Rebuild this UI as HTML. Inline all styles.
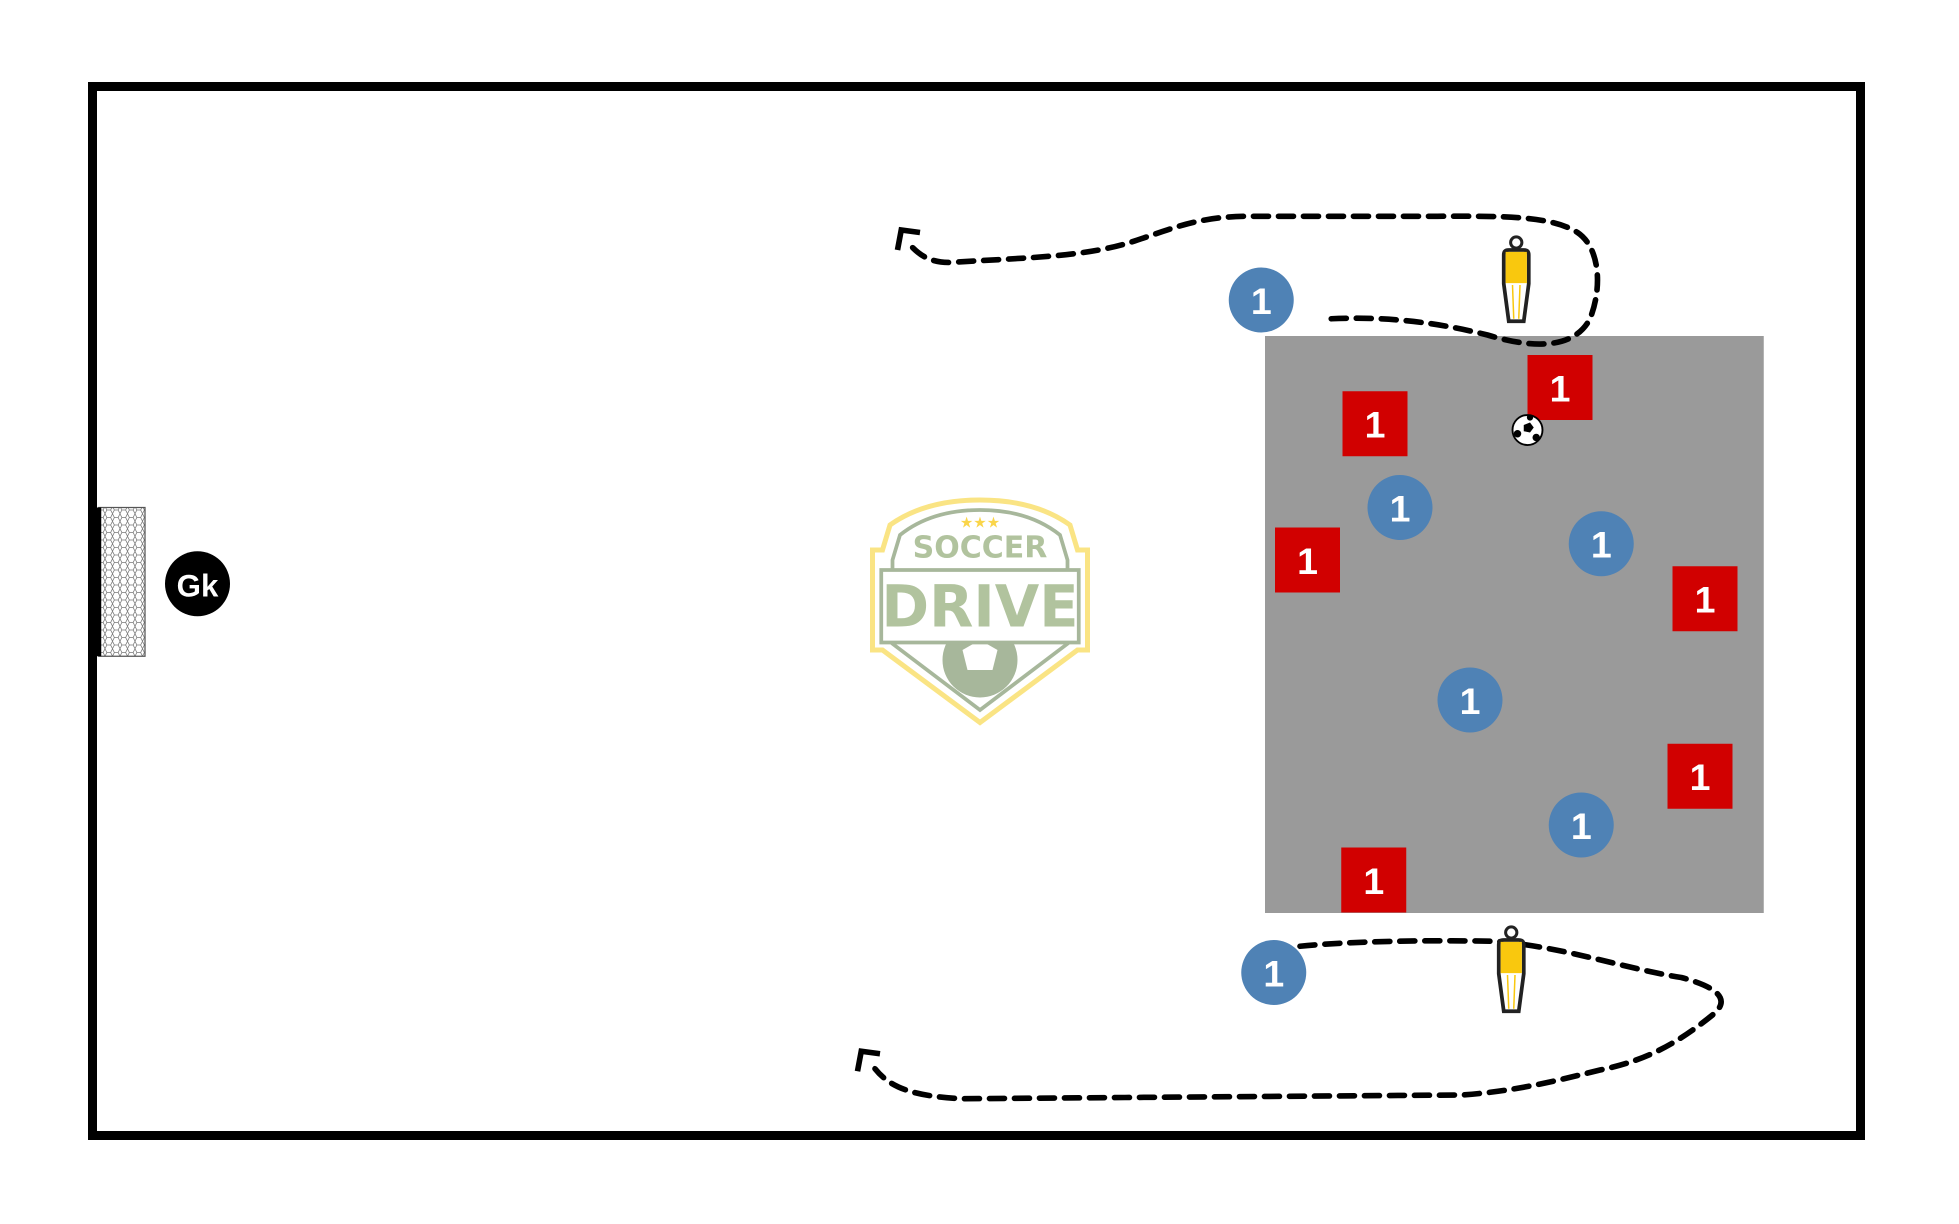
<!DOCTYPE html>
<html><head><meta charset="utf-8"><style>
html,body{margin:0;padding:0;background:#fff;}
svg{display:block;}
</style></head><body>
<svg width="1959" height="1224" viewBox="0 0 1567.2 979.2" preserveAspectRatio="none" xmlns="http://www.w3.org/2000/svg">
<defs>
<pattern id="net" width="6" height="6" patternUnits="userSpaceOnUse">
<rect width="6" height="6" fill="#fff"/>
<path d="M0 3 L1.5 0 L4.5 0 L6 3 L4.5 6 L1.5 6 Z" fill="none" stroke="#777" stroke-width="0.6"/>
</pattern>
<g id="man">
<path d="M-10,15 Q-10,11 -6,11 L6,11 Q10,11 10,15 L10,38 L6,68 L-6,68 L-10,38 Z" fill="#fff" stroke="#222" stroke-width="3"/>
<rect x="-8.5" y="12.5" width="17" height="25" fill="#f9c80e"/>
<line x1="-3" y1="39" x2="-2" y2="66" stroke="#f9c80e" stroke-width="1.2"/>
<line x1="3" y1="39" x2="2" y2="66" stroke="#f9c80e" stroke-width="1.2"/>
<circle cx="0" cy="5" r="4.5" fill="#fff" stroke="#222" stroke-width="2.4"/>
</g>
</defs>
<rect x="0" y="0" width="1567.2" height="979.2" fill="#fff"/>
<rect x="74" y="69.2" width="1414.4" height="839.2" fill="#fff" stroke="#000" stroke-width="7.2"/>
<!-- goal -->
<rect x="79" y="406" width="37" height="119" fill="url(#net)" stroke="#555" stroke-width="1"/>
<rect x="77" y="406" width="4" height="119" fill="#000"/>
<circle cx="158" cy="467" r="26" fill="#000"/>
<text x="158" y="477" text-anchor="middle" font-family="Liberation Sans, sans-serif" font-weight="bold" font-size="25" fill="#fff">Gk</text>
<!-- logo -->
<g opacity="0.75">
<path d="M784,400 Q740,400 712,420 L706,440 L698,440 L698,520 L706,520 L784,578 L862,520 L870,520 L870,440 L862,440 L856,420 Q828,400 784,400 Z" fill="none" stroke="#f9dc5c" stroke-width="4"/>
<path d="M784,408 Q745,408 720,428 L714,448 L714,515 L784,568 L854,515 L854,448 L848,428 Q823,408 784,408 Z" fill="none" stroke="#8aa07a" stroke-width="3"/>
<circle cx="784" cy="528" r="30" fill="#8aa07a"/>
<path d="M770,520 L784,512 L798,520 L794,536 L774,536 Z" fill="#fff"/>
<rect x="705" y="456" width="158" height="58" fill="#fff" stroke="#8aa07a" stroke-width="3"/>
<text x="784" y="446" text-anchor="middle" font-family="DejaVu Sans, sans-serif" font-weight="bold" font-size="24" fill="#98b07e">SOCCER</text>
<text x="784" y="501" text-anchor="middle" font-family="DejaVu Sans, sans-serif" font-weight="bold" font-size="46" fill="#98b07e">DRIVE</text>
<text x="784" y="422" text-anchor="middle" font-family="DejaVu Sans, sans-serif" font-size="12" fill="#f9c80e">★★★</text>
</g>
<!-- gray area -->
<rect x="1012" y="268.8" width="399" height="461.6" fill="#9a9a9a"/>
<g font-family="Liberation Sans, sans-serif" font-weight="bold" font-size="30" fill="#fff" text-anchor="middle">
<rect x="1222" y="284" width="52" height="52" fill="#d10000"/><text x="1248" y="321">1</text>
<rect x="1074" y="313" width="52" height="52" fill="#d10000"/><text x="1100" y="350">1</text>
<rect x="1020" y="422" width="52" height="52" fill="#d10000"/><text x="1046" y="459">1</text>
<rect x="1338" y="453" width="52" height="52" fill="#d10000"/><text x="1364" y="490">1</text>
<rect x="1334" y="595" width="52" height="52" fill="#d10000"/><text x="1360" y="632">1</text>
<rect x="1073" y="678" width="52" height="52" fill="#d10000"/><text x="1099" y="715">1</text>
<circle cx="1009" cy="240" r="26" fill="#4f82b5"/><text x="1009" y="251">1</text>
<circle cx="1120" cy="406" r="26" fill="#4f82b5"/><text x="1120" y="417">1</text>
<circle cx="1281" cy="435" r="26" fill="#4f82b5"/><text x="1281" y="446">1</text>
<circle cx="1176" cy="560" r="26" fill="#4f82b5"/><text x="1176" y="571">1</text>
<circle cx="1265" cy="660" r="26" fill="#4f82b5"/><text x="1265" y="671">1</text>
<circle cx="1019" cy="778" r="26" fill="#4f82b5"/><text x="1019" y="789">1</text>
</g>
<!-- ball -->
<circle cx="1222" cy="344" r="12" fill="#fff" stroke="#000" stroke-width="1.5"/>
<path d="M1219,340 L1224,338 L1227,342 L1224,346 L1219,345 Z" fill="#000"/>
<circle cx="1214" cy="347" r="3" fill="#000"/>
<circle cx="1229" cy="350" r="3" fill="#000"/>
<circle cx="1224" cy="334" r="2.5" fill="#000"/>
<!-- paths -->
<g fill="none" stroke="#000" stroke-width="4.5" stroke-dasharray="12,8" stroke-linecap="round">
<path d="M1065,255 C1110,253 1150,258 1190,268 C1230,280 1260,278 1272,255 C1282,230 1280,198 1262,186 C1240,172 1200,173 1150,173 L1000,173 C960,173 940,182 910,192 C870,206 820,206 760,210 C745,210 737,205 730,198"/>
<path d="M1040,757 C1080,753 1140,752 1195,753 C1250,757 1300,775 1345,782 C1375,790 1385,800 1370,812 C1345,832 1320,848 1280,856 C1240,866 1210,873 1170,876 L900,878 L770,879 C730,877 712,870 700,855"/>
</g>
<path d="M718,200 L721,184 L736,186" fill="none" stroke="#000" stroke-width="4.5"/>
<path d="M686,857 L689,841 L704,843" fill="none" stroke="#000" stroke-width="4.5"/>
<!-- mannequins -->
<use href="#man" x="1213" y="189"/>
<use href="#man" x="1209" y="741"/>
</svg>
</body></html>
